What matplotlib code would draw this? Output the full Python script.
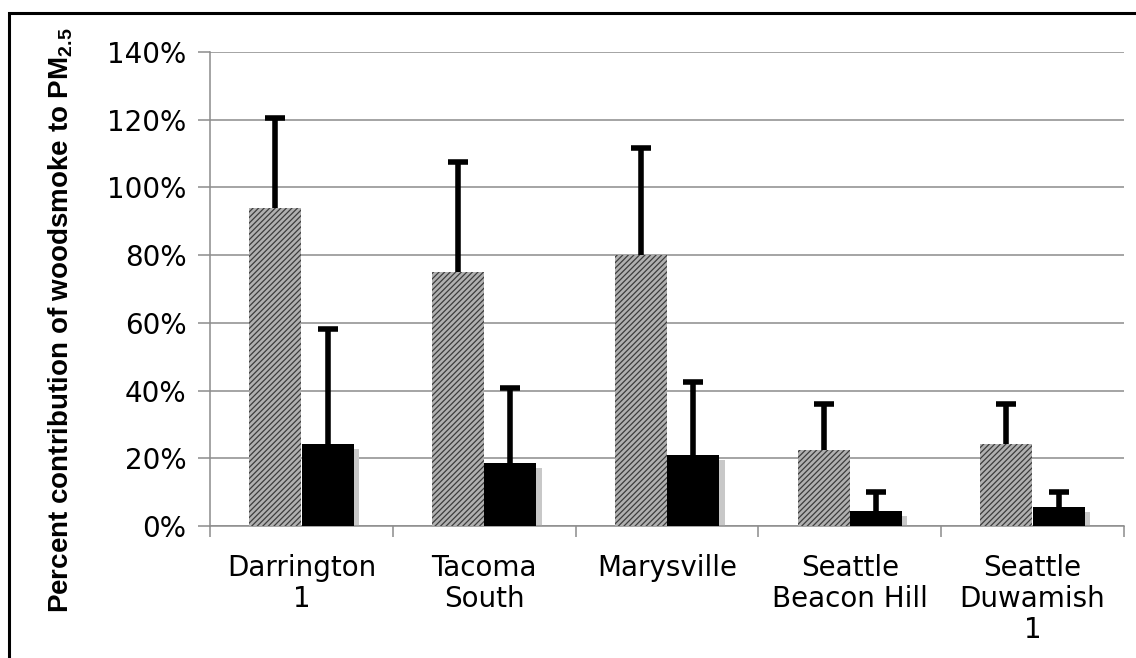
import matplotlib
matplotlib.use("Agg")
import matplotlib.pyplot as plt
import matplotlib.patches as mpatches
import numpy as np

categories = ["Darrington\n1", "Tacoma\nSouth", "Marysville", "Seattle\nBeacon Hill", "Seattle\nDuwamish\n1"]
gray_vals = [94, 75, 80, 22.5, 24.2]
gray_err = [26.5, 32.5, 31.5, 13.5, 11.8]
black_vals = [24.2, 18.6, 21.0, 4.4, 5.6]
black_err = [34.0, 22.2, 21.5, 5.6, 4.4]
yticks = [0, 20, 40, 60, 80, 100, 120, 140]

plt.rcParams['hatch.linewidth'] = 0.9

fig = plt.figure(figsize=(11.36, 6.58), dpi=100)
ax = fig.add_axes([0.1849, 0.2006, 0.8045, 0.7204])

x = np.arange(len(categories))
w = 0.285
off = 0.143

gv = np.array(gray_vals)
bv = np.array(black_vals)
ge = np.array(gray_err)
be = np.array(black_err)

ax.bar(x - off, gv, width=w, color='#b0b0b0', edgecolor='#3c3c3c', linewidth=0,
       hatch='//////', zorder=3)
ax.vlines(x - off, gv, gv + ge, color='black', linewidth=4, zorder=4)
ax.plot(x - off, gv + ge, linestyle='none', marker='_', markersize=15, mew=4, color='black', zorder=4)

# shadow for black bars
ax.bar(x + off + 0.03, bv - 1.5, width=w, color='#c8c8c8', linewidth=0, zorder=2.5)
ax.bar(x + off, bv, width=w, color='black', linewidth=0, zorder=3)
ax.vlines(x + off, bv, bv + be, color='black', linewidth=4, zorder=4)
ax.plot(x + off, bv + be, linestyle='none', marker='_', markersize=15, mew=4, color='black', zorder=4)

ax.set_xlim(-0.5, len(categories) - 0.5)
ax.set_ylim(0, 140)
ax.set_yticks(yticks)
ax.set_yticklabels([f"{v}%" for v in yticks], fontsize=20, family='DejaVu Sans')
ax.yaxis.grid(True, color='#8c8c8c', linewidth=1.1, zorder=0)
ax.set_axisbelow(True)

ax.set_xticks(x)
ax.set_xticklabels(categories, fontsize=20, family='DejaVu Sans', linespacing=1.15)
ax.set_xticks(np.arange(len(categories) + 1) - 0.5, minor=True)
ax.tick_params(axis='x', which='major', length=0, pad=20)
ax.tick_params(axis='x', which='minor', length=8, color='#8c8c8c', width=1.1)
ax.tick_params(axis='y', length=9, color='#8c8c8c', width=1.1, pad=8)

for s in ['top', 'right']:
    ax.spines[s].set_visible(False)
for s in ['left', 'bottom']:
    ax.spines[s].set_color('#8c8c8c')
    ax.spines[s].set_linewidth(1.1)

fig.text(61 / 1136, 1 - 320 / 658, r"Percent contribution of woodsmoke to PM$_{\mathregular{2.5}}$",
         rotation=90, ha='center', va='center', fontsize=20,
         family='Liberation Sans', fontweight='bold')

border = mpatches.Rectangle((9 / 1136, -0.1), 1.2, 1.1 - 13 / 658, transform=fig.transFigure,
                            fill=False, edgecolor='black', linewidth=2.2)
fig.patches.append(border)

fig.savefig("out.png", dpi=100)
